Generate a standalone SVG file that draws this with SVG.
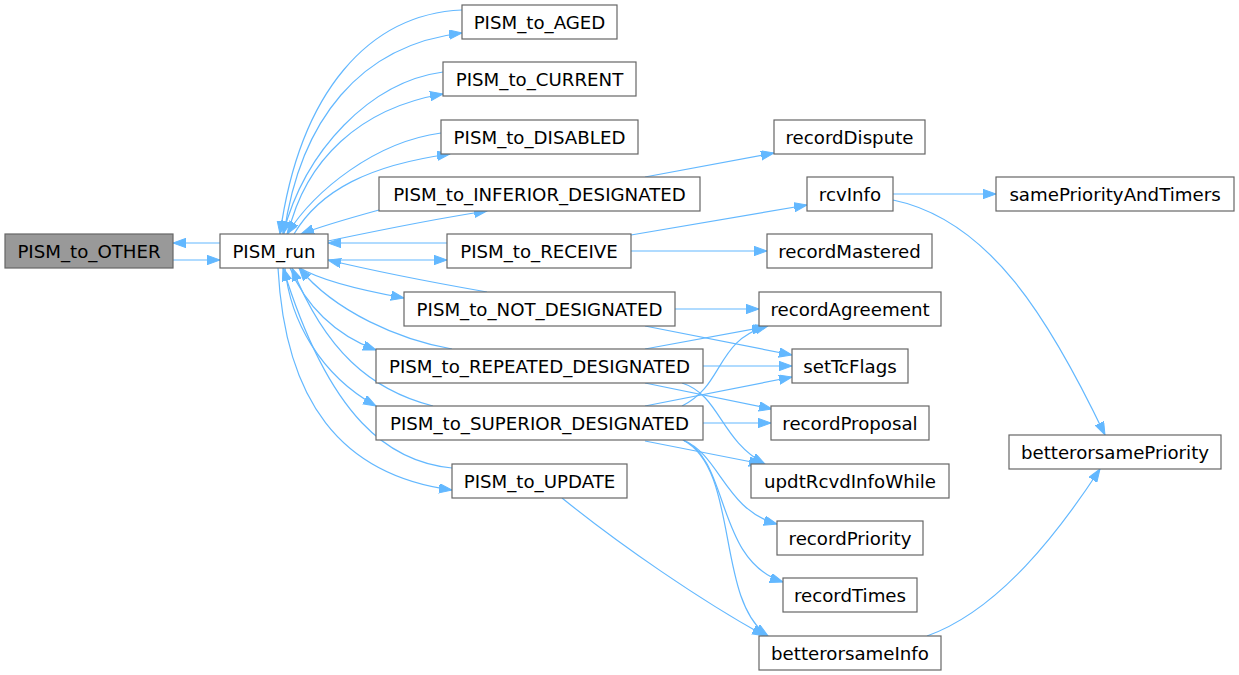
<svg xmlns="http://www.w3.org/2000/svg" width="1239" height="675" viewBox="0 0 1239 675">
<style>
.n rect{fill:#ffffff;stroke:#666666;stroke-width:1.2}
.n.cur rect{fill:#999999}
.n text{font-family:"DejaVu Sans",sans-serif;font-size:18.2px;text-anchor:middle;fill:#000}
.e path{fill:none;stroke:#63b8ff;stroke-width:1.2;marker-end:url(#ah)}
</style>
<defs>
<marker id="ah" markerUnits="userSpaceOnUse" markerWidth="14" markerHeight="10" refX="13" refY="4.7" orient="auto" viewBox="0 0 14 10">
<path d="M0,0 L13,4.7 L0,9.4 Z" fill="#63b8ff" stroke="#63b8ff" stroke-width="1"/>
</marker>
</defs>
<rect width="1239" height="675" fill="#ffffff"/>
<g id="edges" class="e">
<path d="M220,243 L173,243"/>
<path d="M173,260 L220,260"/>
<path d="M462,10 C370,14 300,90 280,234"/>
<path d="M284,234 C300,120 360,45 462,33"/>
<path d="M443,72 C370,82 305,150 283,234"/>
<path d="M288,234 C305,160 360,108 443,94"/>
<path d="M441,133 C375,142 315,190 287,234"/>
<path d="M294,234 C320,190 370,165 450,154"/>
<path d="M379,210 C350,218 322,226 301,234"/>
<path d="M328,241 C390,228 440,218 487,211"/>
<path d="M447,243 L328,243"/>
<path d="M328,260 L447,260"/>
<path d="M487,292 C430,282 370,270 328,260"/>
<path d="M300,268 C320,280 360,290 404,298"/>
<path d="M452,349 C400,340 335,312 299,268"/>
<path d="M290,268 C305,305 335,335 376,350"/>
<path d="M433,406 C370,390 325,350 292,268"/>
<path d="M285,268 C290,320 320,375 376,406"/>
<path d="M452,468 C390,462 330,420 283,268"/>
<path d="M278,268 C285,400 340,475 452,490"/>
<path d="M645,177 L774,153"/>
<path d="M631,235 L807,205"/>
<path d="M631,251 L767,251"/>
<path d="M893,194 L996,194"/>
<path d="M893,200 C990,220 1050,320 1105,435"/>
<path d="M675,309 L759,309"/>
<path d="M645,326 L792,355"/>
<path d="M645,349 L765,327"/>
<path d="M703,366 L792,366"/>
<path d="M645,383 L772,409"/>
<path d="M682,383 C720,395 720,440 765,464"/>
<path d="M682,406 C725,385 715,340 768,326"/>
<path d="M645,406 L792,377"/>
<path d="M703,423 L771,423"/>
<path d="M645,441 L762,464"/>
<path d="M683,440 C720,455 725,510 777,524"/>
<path d="M683,440 C730,460 715,560 783,582"/>
<path d="M683,440 C740,470 715,600 768,636"/>
<path d="M562,498 C620,545 700,600 765,636"/>
<path d="M927,636 C1000,610 1060,530 1100,469"/>
</g>
<g id="PISM_to_OTHER" class="n cur"><rect x="5" y="234" width="168" height="34"/><text x="89" y="257.7">PISM_to_OTHER</text></g>
<g id="PISM_run" class="n"><rect x="220" y="234" width="108" height="34"/><text x="274" y="257.7">PISM_run</text></g>
<g id="PISM_to_AGED" class="n"><rect x="462" y="5" width="155" height="34"/><text x="539.5" y="28.7">PISM_to_AGED</text></g>
<g id="PISM_to_CURRENT" class="n"><rect x="443" y="62" width="193" height="34"/><text x="539.5" y="85.7">PISM_to_CURRENT</text></g>
<g id="PISM_to_DISABLED" class="n"><rect x="441" y="120" width="197" height="34"/><text x="539.5" y="143.7">PISM_to_DISABLED</text></g>
<g id="PISM_to_INFERIOR_DESIGNATED" class="n"><rect x="379" y="177" width="321" height="34"/><text x="539.5" y="200.7">PISM_to_INFERIOR_DESIGNATED</text></g>
<g id="PISM_to_RECEIVE" class="n"><rect x="447" y="234" width="184" height="34"/><text x="539" y="257.7">PISM_to_RECEIVE</text></g>
<g id="PISM_to_NOT_DESIGNATED" class="n"><rect x="404" y="292" width="271" height="34"/><text x="539.5" y="315.7">PISM_to_NOT_DESIGNATED</text></g>
<g id="PISM_to_REPEATED_DESIGNATED" class="n"><rect x="376" y="349" width="327" height="34"/><text x="539.5" y="372.7">PISM_to_REPEATED_DESIGNATED</text></g>
<g id="PISM_to_SUPERIOR_DESIGNATED" class="n"><rect x="376" y="406" width="327" height="34"/><text x="539.5" y="429.7">PISM_to_SUPERIOR_DESIGNATED</text></g>
<g id="PISM_to_UPDATE" class="n"><rect x="452" y="464" width="175" height="34"/><text x="539.5" y="487.7">PISM_to_UPDATE</text></g>
<g id="recordDispute" class="n"><rect x="774" y="120" width="151" height="34"/><text x="849.5" y="143.7">recordDispute</text></g>
<g id="rcvInfo" class="n"><rect x="807" y="177" width="86" height="34"/><text x="850" y="200.7">rcvInfo</text></g>
<g id="samePriorityAndTimers" class="n"><rect x="996" y="177" width="238" height="34"/><text x="1115" y="200.7">samePriorityAndTimers</text></g>
<g id="recordMastered" class="n"><rect x="767" y="234" width="165" height="34"/><text x="849.5" y="257.7">recordMastered</text></g>
<g id="recordAgreement" class="n"><rect x="759" y="292" width="182" height="34"/><text x="850" y="315.7">recordAgreement</text></g>
<g id="setTcFlags" class="n"><rect x="792" y="349" width="116" height="34"/><text x="850" y="372.7">setTcFlags</text></g>
<g id="recordProposal" class="n"><rect x="771" y="406" width="158" height="34"/><text x="850" y="429.7">recordProposal</text></g>
<g id="updtRcvdInfoWhile" class="n"><rect x="751" y="464" width="198" height="34"/><text x="850" y="487.7">updtRcvdInfoWhile</text></g>
<g id="recordPriority" class="n"><rect x="777" y="521" width="146" height="34"/><text x="850" y="544.7">recordPriority</text></g>
<g id="recordTimes" class="n"><rect x="783" y="578" width="134" height="34"/><text x="850" y="601.7">recordTimes</text></g>
<g id="betterorsameInfo" class="n"><rect x="759" y="636" width="182" height="34"/><text x="850" y="659.7">betterorsameInfo</text></g>
<g id="betterorsamePriority" class="n"><rect x="1009" y="435" width="212" height="34"/><text x="1115" y="458.7">betterorsamePriority</text></g>
</svg>
